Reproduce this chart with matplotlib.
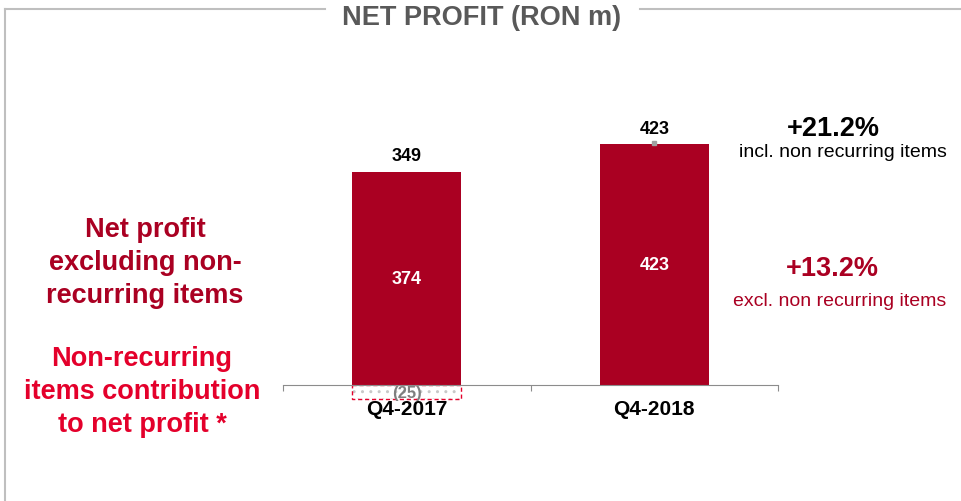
import matplotlib.pyplot as plt
from matplotlib.lines import Line2D

plt.rcParams['font.family'] = ['Liberation Sans', 'DejaVu Sans']

# Net profit, RON m
categories = ['Q4-2017', 'Q4-2018']
recurring = [374, 423]
non_recurring = [-25, 0]
totals = [349, 423]
growth_incl = '+21.2%'
growth_excl = '+13.2%'

DARK_RED = '#AA0022'
BRIGHT_RED = '#E4002B'
GREY = '#7F7F7F'

W, H = 961, 502


def fx(px):
    return px / W


def fy(py):
    return 1 - py / H


fig = plt.figure(figsize=(9.61, 5.02), dpi=100)
ax = fig.add_axes([fx(283), fy(408.8), fx(495), 279.2 / H])

x = list(range(len(categories)))
ax.bar(x, recurring, width=0.44, color=DARK_RED)

# negative non-recurring contributions: dotted fill, dashed red outline
for i, v in enumerate(non_recurring):
    if v < 0:
        ax.bar(i, v, width=0.44, color='white', edgecolor='#C8C8C8',
               hatch='..', linewidth=0)
        ax.bar(i, v, width=0.44, fill=False, edgecolor=BRIGHT_RED,
               linestyle=(0, (3, 2)), linewidth=1.0)
        ax.text(i, v / 2, f'({-v})', ha='center', va='center',
                color=GREY, fontsize=12, fontweight='bold')
    else:
        ax.plot(i, recurring[i] + 1, marker='s', ms=3, color='#A0A0A0')

for i, v in enumerate(recurring):
    ax.text(i, v / 2, str(v), ha='center', va='center', color='white',
            fontsize=13, fontweight='bold')
    ax.annotate(str(totals[i]), (i, v), xytext=(0, 11.5),
                textcoords='offset points', ha='center', va='center',
                fontsize=13, fontweight='bold')
    ax.annotate(categories[i], (i, 0), xytext=(0, -17),
                textcoords='offset points', ha='center', va='center',
                fontsize=15, fontweight='bold')

ax.set_xlim(-0.5, 1.5)
ax.set_ylim(-40, 450)
for side in ['top', 'right', 'left']:
    ax.spines[side].set_visible(False)
ax.spines['bottom'].set_position(('data', 0))
ax.spines['bottom'].set_color('#8C8C8C')
ax.set_yticks([])
ax.set_xticks([-0.5, 0.5, 1.5])
ax.set_xticklabels([])
ax.tick_params(axis='x', length=4, color='#8C8C8C', direction='out')

# frame and title
frame = '#BFBFBF'
fig.add_artist(Line2D([fx(5), fx(325)], [fy(10), fy(10)], color=frame, lw=1.5))
fig.add_artist(Line2D([fx(640), 1], [fy(10), fy(10)], color=frame, lw=1.5))
fig.add_artist(Line2D([fx(5), fx(5)], [fy(10), 0], color=frame, lw=1.5))
fig.text(fx(482), fy(18), 'NET PROFIT (RON m)', ha='center', va='center',
         fontsize=19.5, fontweight='bold', color='#595959')

# left side legend texts
fig.text(fx(145), fy(263), 'Net profit\nexcluding non-\nrecurring items',
         ha='center', va='center', fontsize=19.5, fontweight='bold',
         color=DARK_RED, linespacing=1.34)
fig.text(fx(142), fy(392), 'Non-recurring\nitems contribution\nto net profit *',
         ha='center', va='center', fontsize=19.5, fontweight='bold',
         color=BRIGHT_RED, linespacing=1.34)

# right side growth notes
fig.text(fx(833), fy(129), growth_incl, ha='center', va='center',
         fontsize=19.5, fontweight='bold', color='black')
fig.text(fx(843), fy(153), 'incl. non recurring items', ha='center',
         va='center', fontsize=14, color='black')
fig.text(fx(832), fy(269), growth_excl, ha='center', va='center',
         fontsize=19.5, fontweight='bold', color=DARK_RED)
fig.text(fx(840), fy(302), 'excl. non recurring items', ha='center',
         va='center', fontsize=14, color=DARK_RED)

fig.savefig('out.png', dpi=100)
